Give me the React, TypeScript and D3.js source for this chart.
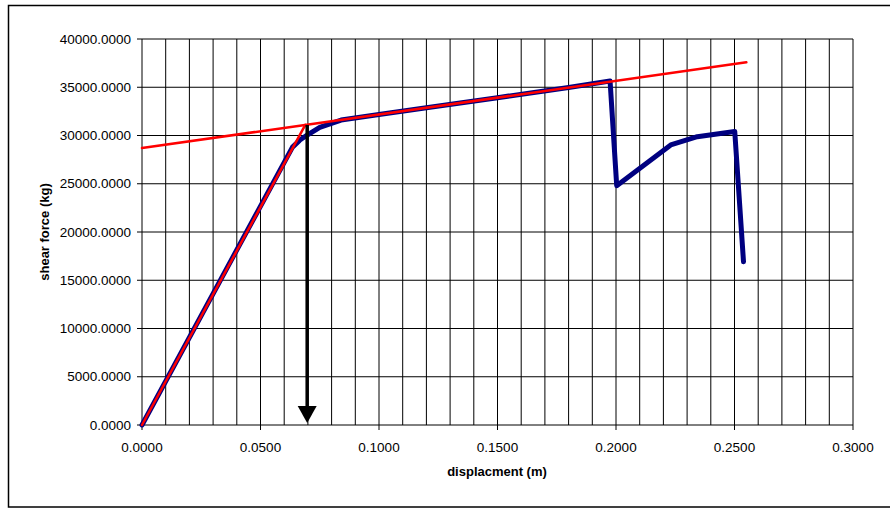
import React from 'react';
import * as d3 from 'd3';

// measured response (displacement m, shear force kg)
const responseX = [0, 0.0635, 0.0665, 0.0697, 0.075, 0.084, 0.1, 0.12, 0.15, 0.18, 0.1975, 0.2003, 0.2231, 0.2343, 0.2501, 0.2538];
const responseY = [0, 28800, 29500, 30050, 30850, 31600, 32180, 32880, 33920, 34970, 35650, 24800, 29020, 29880, 30420, 16920];

// bilinear idealisation
const elasticX = [0, 0.0689];
const elasticY = [0, 31100];
const hardeningX = [0, 0.255];
const hardeningY = [28700, 37580];

const xTicks = [0, 0.05, 0.1, 0.15, 0.2, 0.25, 0.3];
const yTicks = [0, 5000, 10000, 15000, 20000, 25000, 30000, 35000, 40000];
const xGrid = d3.range(0, 31).map(i => i / 100);

const arrowX = 0.0697;
const arrowTop = 31100;

const W = 890;
const H = 509;
const margin = { left: 142, top: 39, right: 853, bottom: 425 };

export default function App() {
  const x = d3.scaleLinear().domain([0, 0.3]).range([margin.left, margin.right]);
  const y = d3.scaleLinear().domain([0, 40000]).range([margin.bottom, margin.top]);

  const line = d3.line<[number, number]>()
    .x(d => x(d[0]))
    .y(d => y(d[1]));

  const zip = (a: number[], b: number[]) => a.map((v, i) => [v, b[i]] as [number, number]);

  const ax = x(arrowX);
  const tipY = y(0) - 2;
  const font = '"Liberation Sans", Arial, sans-serif';

  return (
    <svg width={W} height={H} style={{ position: 'absolute', left: 0, top: 0, background: '#fff' }}>
      <rect x={8.5} y={5.5} width={W} height={501.5} fill="#fff" stroke="#000" strokeWidth={1.5} />

      {/* grid */}
      <g stroke="#000" strokeWidth={1}>
        {xGrid.map(v => (
          <line key={'vx' + v} x1={x(v)} x2={x(v)} y1={y(0)} y2={y(40000)} />
        ))}
        {yTicks.map(v => (
          <line key={'hy' + v} x1={x(0)} x2={x(0.3)} y1={y(v)} y2={y(v)} />
        ))}
        {xTicks.map(v => (
          <line key={'tx' + v} x1={x(v)} x2={x(v)} y1={y(0)} y2={y(0) + 5} />
        ))}
        {yTicks.map(v => (
          <line key={'ty' + v} x1={x(0) - 5} x2={x(0)} y1={y(v)} y2={y(v)} />
        ))}
      </g>

      {/* tick labels */}
      <g fontFamily={font} fontSize={13.5} fill="#000">
        {yTicks.map(v => (
          <text key={'ly' + v} x={x(0) - 11} y={y(v)} textAnchor="end" dominantBaseline="central">
            {v.toFixed(4)}
          </text>
        ))}
        {xTicks.map(v => (
          <text key={'lx' + v} x={x(v)} y={y(0) + 22} textAnchor="middle" dominantBaseline="central">
            {v.toFixed(4)}
          </text>
        ))}
      </g>

      {/* axis titles */}
      <text x={497} y={471} textAnchor="middle" dominantBaseline="central" fontFamily={font} fontSize={13} fontWeight="bold">
        displacment (m)
      </text>
      <text
        transform={`translate(44,232) rotate(-90)`}
        textAnchor="middle"
        dominantBaseline="central"
        fontFamily={font}
        fontSize={13}
        fontWeight="bold"
      >
        shear force (kg)
      </text>

      {/* series */}
      <path d={line(zip(responseX, responseY)) || ''} fill="none" stroke="#000080" strokeWidth={5} strokeLinejoin="round" strokeLinecap="round" />
      <path d={line(zip(elasticX, elasticY)) || ''} fill="none" stroke="#ff0000" strokeWidth={2.5} strokeLinecap="round" />
      <path d={line(zip(hardeningX, hardeningY)) || ''} fill="none" stroke="#ff0000" strokeWidth={2.5} strokeLinecap="round" />

      {/* arrow */}
      <line x1={ax} x2={ax} y1={y(arrowTop)} y2={tipY - 14} stroke="#000" strokeWidth={3.5} />
      <path d={`M${ax - 9.5},${tipY - 17} L${ax + 9.5},${tipY - 17} L${ax},${tipY} Z`} fill="#000" />
    </svg>
  );
}
